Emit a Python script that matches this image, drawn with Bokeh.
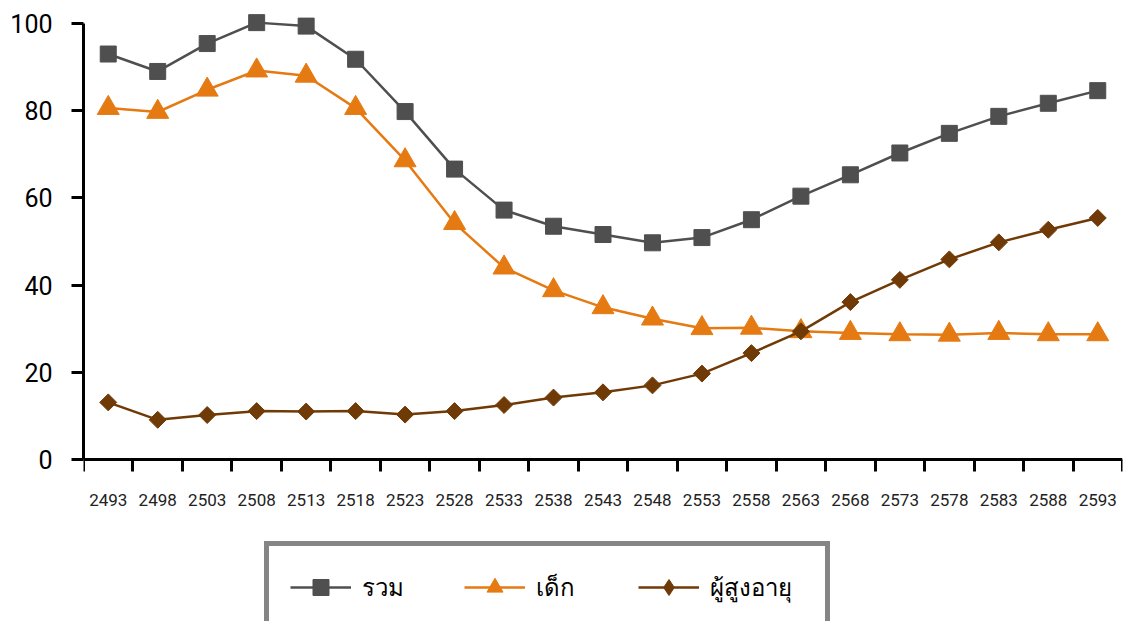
from bokeh.plotting import figure
from bokeh.models import Range1d, FixedTicker, Legend, LegendItem, ColumnDataSource
from bokeh.embed import file_html
from bokeh.resources import INLINE

years = ["2493", "2498", "2503", "2508", "2513", "2518", "2523", "2528", "2533", "2538", "2543",
         "2548", "2553", "2558", "2563", "2568", "2573", "2578", "2583", "2588", "2593"]
total = [93, 89, 95.4, 100.2, 99.4, 91.8, 79.8, 66.6, 57.2, 53.5, 51.6,
         49.7, 50.9, 55.0, 60.4, 65.3, 70.3, 74.8, 78.7, 81.7, 84.6]
children = [80.6, 79.7, 84.8, 89.2, 88.0, 80.6, 68.6, 54.2, 44.0, 38.8, 34.9,
            32.3, 30.1, 30.2, 29.4, 29.0, 28.7, 28.6, 29.0, 28.7, 28.7]
elderly = [13.1, 9.1, 10.2, 11.1, 11.0, 11.1, 10.3, 11.1, 12.5, 14.2, 15.4,
           17.0, 19.7, 24.4, 29.4, 36.1, 41.2, 45.9, 49.8, 52.7, 55.4]
names = ["รวม", "เด็ก", "ผู้สูงอายุ"]
y_ticks = [0, 20, 40, 60, 80, 100]

idx = list(range(len(years)))
src = ColumnDataSource(dict(x=idx, total=total, children=children, elderly=elderly))

# 4.36 px per unit; value 0 at y=459, value 100 at y=23; frame from y=5 to the canvas bottom
PX = 4.36
y_low = -(621 - 459) / PX
y_high = 100 + (23 - 5) / PX

p = figure(width=1127, height=621, output_backend="svg", toolbar_location=None,
           x_range=Range1d(-0.5, len(years) - 0.5), y_range=Range1d(y_low, y_high),
           min_border_left=83, min_border_right=5, min_border_top=5, min_border_bottom=0)
p.outline_line_color = None
p.xgrid.visible = False
p.ygrid.visible = False
p.background_fill_color = "white"
p.border_fill_color = "white"

GRAY = "#4f4f4f"
ORANGE = "#e67a12"
BROWN = "#703a07"

l1 = p.line("x", "total", source=src, line_color=GRAY, line_width=2.5)
m1 = p.scatter("x", "total", source=src, marker="square", size=16, fill_color=GRAY, line_color=GRAY)
l2 = p.line("x", "children", source=src, line_color=ORANGE, line_width=2.5)
m2 = p.scatter("x", "children", source=src, marker="triangle", size=22, fill_color=ORANGE, line_color=ORANGE)
l3 = p.line("x", "elderly", source=src, line_color=BROWN, line_width=2.5)
# diamond used for the legend glyph (legend glyphs ignore angle); hidden under the rotated squares
m3_legend = p.scatter("x", "elderly", source=src, marker="diamond", size=11, fill_color=BROWN, line_color=BROWN)
m3 = p.scatter("x", "elderly", source=src, marker="square", angle=0.785398, size=12, fill_color=BROWN, line_color=BROWN)

# x axis, fixed at value 0
xa = p.xaxis[0]
xa.fixed_location = 0
xa.ticker = FixedTicker(ticks=idx, minor_ticks=[i - 0.5 for i in range(len(years) + 1)])
xa.major_label_overrides = {i: y for i, y in enumerate(years)}
xa.major_tick_line_color = None
xa.major_tick_out = 12
xa.major_tick_in = 0
xa.minor_tick_out = 12
xa.minor_tick_in = 0
xa.minor_tick_line_width = 3
xa.minor_tick_line_color = "black"
xa.axis_line_width = 3
xa.axis_line_color = "black"
xa.major_label_text_font = "Roboto"
xa.major_label_text_font_size = "17px"
xa.major_label_text_color = "#222222"
xa.major_label_standoff = 22

# y axis
ya = p.yaxis[0]
ya.bounds = (0, 100)
ya.ticker = FixedTicker(ticks=y_ticks)
ya.major_tick_out = 12
ya.major_tick_in = 0
ya.major_tick_line_width = 3
ya.minor_tick_line_color = None
ya.axis_line_width = 3
ya.axis_line_color = "black"
ya.major_label_text_font = "Roboto"
ya.major_label_text_font_size = "25px"
ya.major_label_text_color = "black"
ya.major_label_standoff = 19

legend = Legend(items=[LegendItem(label=names[0], renderers=[l1, m1]),
                       LegendItem(label=names[1], renderers=[l2, m2]),
                       LegendItem(label=names[2], renderers=[l3, m3_legend])],
                orientation="horizontal", location=(181, -12),
                border_line_color="#858585", border_line_width=5, border_line_alpha=1,
                background_fill_color="white", background_fill_alpha=1,
                label_text_font="Noto Sans", label_text_font_size="24px", label_text_color="black",
                glyph_width=61, glyph_height=40, label_standoff=11, label_width=94,
                spacing=8, padding=21, margin=0)
p.add_layout(legend, "center")

open("out.html", "w").write(file_html(p, INLINE))
